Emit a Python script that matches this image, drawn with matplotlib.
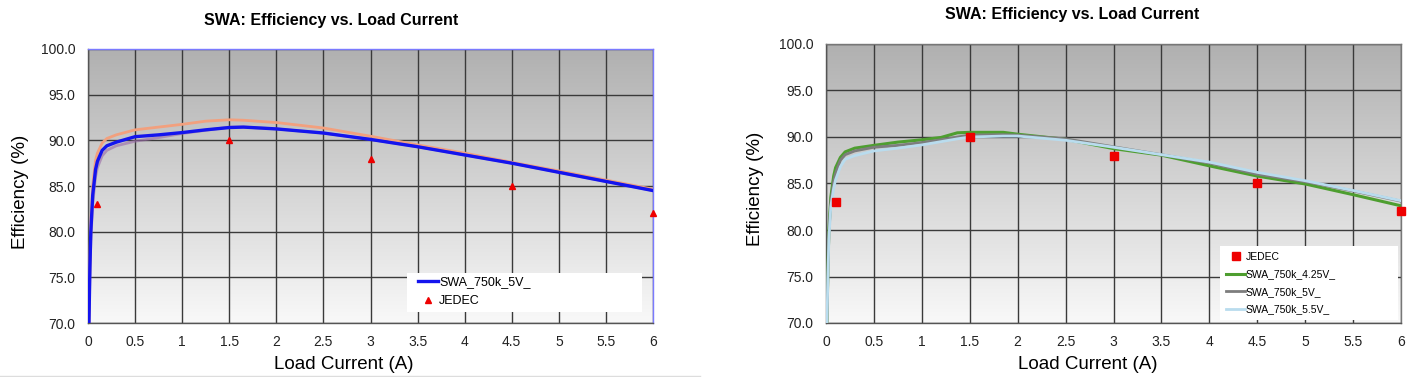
import matplotlib.pyplot as plt
from matplotlib.patches import Rectangle
import numpy as np

plt.rcParams['font.family'] = ['Liberation Sans', 'DejaVu Sans']

title = 'SWA: Efficiency vs. Load Current'
x_ticks = [0, 0.5, 1, 1.5, 2, 2.5, 3, 3.5, 4, 4.5, 5, 5.5, 6]
x_ticklabels = ['0', '0.5', '1', '1.5', '2', '2.5', '3', '3.5', '4', '4.5', '5', '5.5', '6']
y_ticks = [70, 75, 80, 85, 90, 95, 100]

# JEDEC reference points (same in both charts)
jedec_x = [0.1, 1.5, 3, 4.5, 6]
jedec_y = [83, 90, 88, 85, 82]

# left chart curves
cur_l = [0.01, 0.02, 0.03, 0.05, 0.08, 0.1, 0.15, 0.2, 0.3, 0.5, 0.75, 1, 1.25, 1.5, 1.65, 2, 2.5, 3, 3.5, 4, 4.5, 5, 5.5, 6]
eff_5v = [70, 76, 80, 84, 86.8, 87.7, 88.9, 89.4, 89.8, 90.4, 90.6, 90.85, 91.15, 91.4, 91.45, 91.25, 90.8, 90.1, 89.3, 88.4, 87.5, 86.5, 85.5, 84.5]
eff_orange = [70, 77, 81, 85, 87.8, 88.6, 89.7, 90.2, 90.6, 91.15, 91.45, 91.75, 92.1, 92.25, 92.2, 91.95, 91.35, 90.45, 89.5, 88.6, 87.6, 86.65, 85.65, 84.65]
eff_purple = [70, 75, 79, 83, 86, 87, 88.3, 88.9, 89.4, 89.9, 90.3, 90.75, 91.1, 91.45, 91.45, 91.25, 90.8, 90.1, 89.3, 88.4, 87.5, 86.5, 85.5, 84.5]

# right chart curves
cur_r = [0.01, 0.02, 0.03, 0.05, 0.08, 0.1, 0.15, 0.2, 0.3, 0.5, 0.75, 1, 1.2, 1.37, 1.5, 1.85, 2, 2.5, 3, 3.5, 4, 4.5, 5, 5.5, 6]
eff_425 = [70, 76, 80, 83.5, 85.8, 86.7, 87.8, 88.4, 88.8, 89.1, 89.45, 89.7, 89.95, 90.45, 90.5, 90.5, 90.3, 89.75, 88.75, 88.05, 86.9, 85.8, 84.95, 83.8, 82.6]
eff_5 = [70, 75.5, 79.5, 83, 85.2, 86.1, 87.5, 88.1, 88.5, 88.9, 89.1, 89.4, 89.7, 90.0, 90.2, 90.25, 90.2, 89.8, 88.95, 88.1, 87.2, 86.0, 85.2, 84.2, 83.1]
eff_55 = [70, 75, 79, 82.5, 84.5, 85.4, 86.8, 87.6, 88.0, 88.5, 88.8, 89.15, 89.5, 89.8, 90.0, 90.1, 90.1, 89.65, 88.9, 88.1, 87.3, 86.2, 85.3, 84.25, 83.15]

top_rgb = np.array([0.69, 0.69, 0.69])
bot_rgb = np.array([0.975, 0.975, 0.975])


def style_axes(ax, frame_color):
    t = np.linspace(0, 1, 256).reshape(-1, 1, 1)
    grad = bot_rgb + (top_rgb - bot_rgb) * t  # row 0 = bottom
    ax.imshow(grad, aspect='auto', extent=[0, 1, 0, 1], transform=ax.transAxes,
              zorder=0, origin='lower')
    ax.set_xlim(0, 6)
    ax.set_ylim(70, 100)
    ax.set_xticks(x_ticks)
    ax.set_xticklabels(x_ticklabels)
    ax.set_yticks(y_ticks)
    ax.set_yticklabels(['%.1f' % v for v in y_ticks])
    ax.grid(True, color='#3a3a3a', lw=1.0, zorder=1)
    ax.tick_params(length=0, labelsize=10, colors='#222222')
    ax.tick_params(axis='y', pad=9)
    ax.tick_params(axis='x', pad=9)
    for s in ax.spines.values():
        s.set_color('#555555')
        s.set_linewidth(1.0)
    for s in ('top', 'right'):
        ax.spines[s].set_color(frame_color)
    ax.set_xlabel('Load Current (A)', fontsize=13.5)
    ax.set_ylabel('Efficiency (%)', fontsize=13.5)


fig = plt.figure(figsize=(14.12, 3.77), dpi=100)

# left chart
ax1 = fig.add_axes([88 / 1412, 54 / 377, 565 / 1412, 274 / 377])
style_axes(ax1, '#7a7aff')
ax1.xaxis.set_label_coords(0.452, -0.122)
ax1.yaxis.set_label_coords(-0.105, 0.48)
ax1.plot(cur_l, eff_orange, color='#f2a07e', lw=2.0, zorder=3, label='_nolegend_')
ax1.plot(cur_l, eff_purple, color='#9a6aa8', lw=2.0, alpha=0.6, zorder=3, label='_nolegend_')
ax1.plot(cur_l, eff_5v, color='#1414ee', lw=2.4, zorder=4, label='SWA_750k_5V_')
ax1.plot(jedec_x, jedec_y, ls='none', marker='^', ms=5, color='#ee0000',
         clip_on=False, zorder=5, label='JEDEC')
ax1.add_patch(Rectangle((0.565, 0.04), 0.415, 0.142, transform=ax1.transAxes,
                        facecolor='white', edgecolor='none', zorder=6))
ax1.legend(loc='upper left', bbox_to_anchor=(0.575, 0.19), frameon=False,
           fontsize=9, handlelength=1.6, handletextpad=0.1, labelspacing=0.6,
           borderaxespad=0).set_zorder(7)

# right chart
ax2 = fig.add_axes([826 / 1412, 54 / 377, 575 / 1412, 279 / 377])
style_axes(ax2, '#777777')
ax2.xaxis.set_label_coords(0.456, -0.12)
ax2.yaxis.set_label_coords(-0.108, 0.48)
ax2.plot(cur_r, eff_425, color='#4e9e30', lw=2.2, zorder=3, label='SWA_750k_4.25V_')
ax2.plot(cur_r, eff_5, color='#7d7d7d', lw=2.0, zorder=3, label='SWA_750k_5V_')
ax2.plot(cur_r, eff_55, color='#b9dcee', lw=2.0, zorder=4, label='SWA_750k_5.5V_')
ax2.plot(jedec_x, jedec_y, ls='none', marker='s', ms=6, color='#ee0000',
         clip_on=False, zorder=5, label='JEDEC')
ax2.add_patch(Rectangle((0.685, 0.01), 0.31, 0.267, transform=ax2.transAxes,
                        facecolor='white', edgecolor='none', zorder=6))
handles, labels = ax2.get_legend_handles_labels()
order = [3, 0, 1, 2]
ax2.legend([handles[i] for i in order], [labels[i] for i in order],
           loc='upper left', bbox_to_anchor=(0.685, 0.277), frameon=False,
           fontsize=7.5, handlelength=1.8, handletextpad=0.1, labelspacing=0.72,
           borderaxespad=0.2).set_zorder(7)

fig.text(331 / 1412, 1 - 21 / 377, title, ha='center', va='center',
         fontsize=11.5, fontweight='bold')
fig.text(1072 / 1412, 1 - 15 / 377, title, ha='center', va='center',
         fontsize=11.5, fontweight='bold')
fig.add_artist(plt.Line2D([0, 700 / 1412], [1 / 377, 1 / 377], color='#dddddd', lw=1))

fig.savefig('out.png', dpi=100)
